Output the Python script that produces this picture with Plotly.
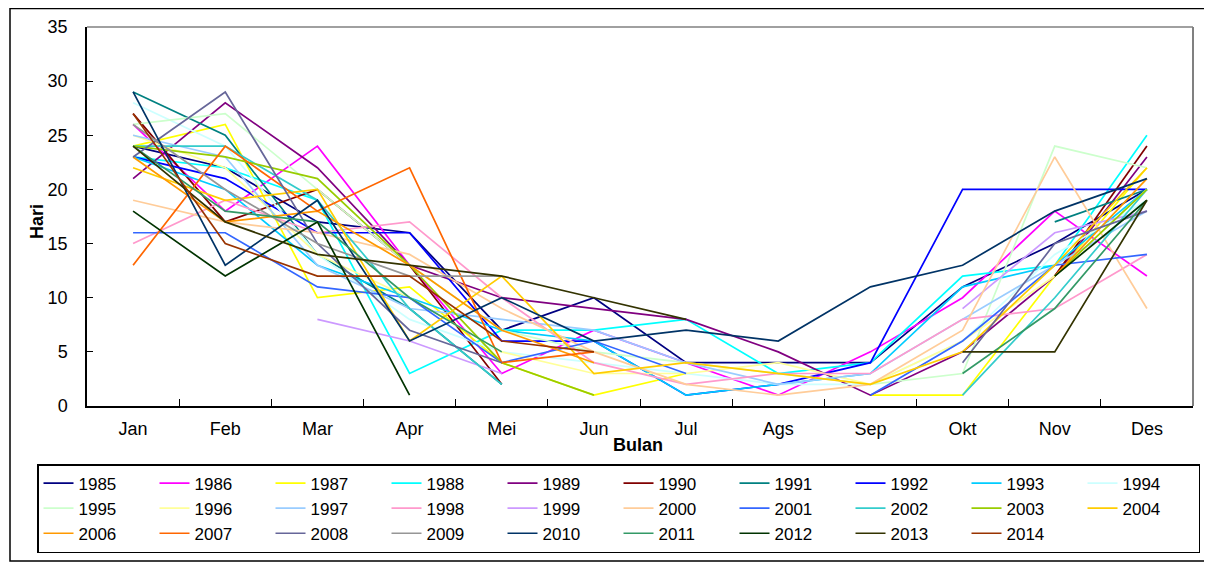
import plotly.graph_objects as go

months = ["Jan", "Feb", "Mar", "Apr", "Mei", "Jun", "Jul", "Ags", "Sep", "Okt", "Nov", "Des"]
N = None

y1985 = [24, 22, 17, 16, 7, 10, 4, 4, 4, 11, 15, 20]
y1986 = [26, 18, 24, 13, 3, 7, 4, 1, 5, 10, 18, 12]
y1987 = [24, 26, 10, 11, 4, 1, 3, N, 1, 1, 12, 22]
y1988 = [23, 22, 19, 3, 7, 7, 8, 3, 4, 12, 13, 25]
y1989 = [21, 28, 22, 13, 10, 9, 8, 5, 1, 5, 12, 23]
y1990 = [27, 17, 20, 13, 2, N, N, N, N, N, 12, 24]
y1991 = [29, 25, 14, 9, 2, N, N, N, N, N, 17, 20]
y1992 = [23, 21, 16, 16, 6, 6, 1, 2, 4, 20, 20, 20]
y1993 = [23, 20, 13, 10, 7, 6, 1, 2, 3, 11, 13, 20]
y1994 = [28, 24, 14, 8, 5, 4, 3, 2, 2, 6, 14, 19]
y1995 = [26, 27, 20, 13, 7, 5, 4, 3, 2, 3, 24, 22]
y1996 = [25, 22, 14, 10, 5, 3, 3, 4, 2, 6, 12, 20]
y1997 = [25, 23, 13, 9, 8, 7, 4, 2, 3, 8, 13, 18]
y1998 = [15, 19, 16, 17, 10, 4, 2, 3, 3, 8, 9, 14]
y1999 = [N, N, 8, 6, 3, N, N, N, N, 9, 16, 18]
y2000 = [19, 17, 16, 14, 9, 5, 2, 1, 2, 7, 23, 9]
y2001 = [16, 16, 11, 10, 4, 6, 3, N, 1, 6, 13, 14]
y2002 = [24, 24, 19, 9, 2, N, N, N, N, 1, 10, 20]
y2003 = [24, 23, 21, 13, 4, 1, N, N, N, N, 12, 20]
y2004 = [22, 19, 20, 6, 12, 3, 4, 3, 2, 5, 13, 22]
y2006 = [23, 17, 18, 13, 7, 4, N, N, N, N, 12, 21]
y2007 = [13, 24, 18, 22, 4, 5, N, N, N, N, N, N]
y2008 = [23, 29, 15, 7, 4, N, N, N, N, 4, 15, 18]
y2009 = [26, 20, 15, 12, 12, N, N, N, N, N, N, N]
y2010 = [29, 13, 19, 6, 10, 6, 7, 6, 11, 13, 18, 21]
y2011 = [24, 18, 17, 10, 5, N, N, N, N, 3, 9, 19]
y2012 = [18, 12, 17, 1, N, N, N, N, N, N, 12, 19]
y2013 = [24, 17, 14, 13, 12, 10, 8, N, N, 5, 5, 19]
y2014 = [27, 15, 12, 12, 6, 5, N, N, N, N, N, N]

series = [
    ("1985", y1985, "#000080"), ("1986", y1986, "#FF00FF"), ("1987", y1987, "#FFFF00"),
    ("1988", y1988, "#00FFFF"), ("1989", y1989, "#800080"), ("1990", y1990, "#800000"),
    ("1991", y1991, "#008080"), ("1992", y1992, "#0000FF"), ("1993", y1993, "#00CCFF"),
    ("1994", y1994, "#CCFFFF"), ("1995", y1995, "#CCFFCC"), ("1996", y1996, "#FFFF99"),
    ("1997", y1997, "#99CCFF"), ("1998", y1998, "#FF99CC"), ("1999", y1999, "#CC99FF"),
    ("2000", y2000, "#FFCC99"), ("2001", y2001, "#3366FF"), ("2002", y2002, "#33CCCC"),
    ("2003", y2003, "#99CC00"), ("2004", y2004, "#FFCC00"), ("2006", y2006, "#FF9900"),
    ("2007", y2007, "#FF6600"), ("2008", y2008, "#666699"), ("2009", y2009, "#969696"),
    ("2010", y2010, "#003366"), ("2011", y2011, "#339966"), ("2012", y2012, "#003300"),
    ("2013", y2013, "#333300"), ("2014", y2014, "#993300"),
]

FONT = "Liberation Sans, Arial, sans-serif"

fig = go.Figure()
for name, vals, col in series:
    fig.add_trace(go.Scatter(
        x=months, y=vals, name=name, mode="lines",
        line=dict(color=col, width=1.7), connectgaps=False,
    ))

# page offset: the html body has an 8px margin
OFF = 8
W, H = 1212 - OFF, 564 - OFF
# plot area in page pixels
L, R, T, B = 87, 1193, 27, 406
pw, ph = R - L, B - T

def px(x):
    return (x - L) / pw

def py(y):
    return (B - y) / ph

fig.update_layout(
    width=W, height=H,
    margin=dict(l=L - OFF, r=W - (R - OFF), t=T - OFF, b=H - (B - OFF), pad=0, autoexpand=False),
    paper_bgcolor="white", plot_bgcolor="white",
    font=dict(family=FONT, size=18, color="black"),
    showlegend=True,
    legend=dict(
        orientation="h", x=px(37), y=py(464), xanchor="left", yanchor="top",
        bordercolor="black", borderwidth=1.5, bgcolor="white",
        font=dict(family=FONT, size=17, color="black"),
        entrywidth=71, entrywidthmode="pixels", tracegroupgap=0,
        itemwidth=30,
    ),
    xaxis=dict(
        type="category", categoryorder="array", categoryarray=months,
        tickson="boundaries", ticks="inside", ticklen=7, tickcolor="black",
        showline=True, linecolor="black", linewidth=1.5, showgrid=False,
        zeroline=False, tickfont=dict(family=FONT, size=18, color="black"),
        range=[-0.5, 11.5], ticklabelstandoff=6,
    ),
    yaxis=dict(
        range=[0, 35], dtick=5, tick0=0, ticks="inside", ticklen=6, tickcolor="black",
        showline=True, linecolor="black", linewidth=1.5, showgrid=False,
        zeroline=False, tickfont=dict(family=FONT, size=18, color="black"),
        ticklabelstandoff=14,
    ),
    shapes=[
        dict(type="line", xref="paper", yref="paper", x0=0, x1=1, y0=1, y1=1,
             line=dict(color="#808080", width=1.5)),
        dict(type="line", xref="paper", yref="paper", x0=1, x1=1, y0=0, y1=1,
             line=dict(color="#808080", width=2)),
        dict(type="rect", xref="paper", yref="paper", x0=px(10), x1=px(1208),
             y0=py(561), y1=py(8.5), line=dict(color="black", width=1.5), layer="below"),
    ],
    annotations=[
        dict(text="<b>Bulan</b>", xref="paper", yref="paper", x=px(638), y=py(445),
             showarrow=False, font=dict(family=FONT, size=18, color="black"),
             xanchor="center", yanchor="middle"),
        dict(text="<b>Hari</b>", xref="paper", yref="paper", x=px(37), y=py(222),
             showarrow=False, textangle=-90, font=dict(family=FONT, size=18, color="black"),
             xanchor="center", yanchor="middle"),
    ],
)

fig.write_html("out.html")
